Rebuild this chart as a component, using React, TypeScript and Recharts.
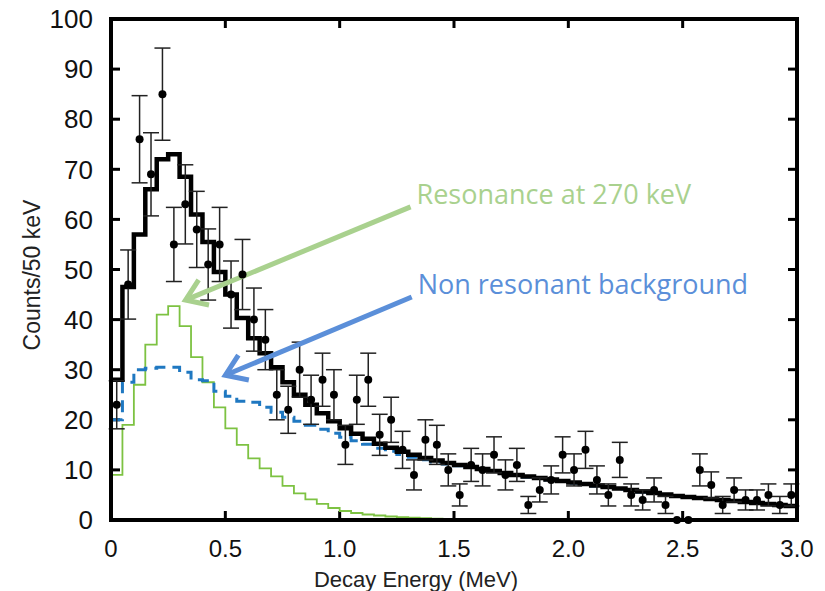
import React from 'react';
import { ComposedChart, Line, Scatter, ErrorBar, XAxis, YAxis, ReferenceLine, Label } from 'recharts';

// bin edges in MeV (50 keV bins)
const binEdges = [
  0, 0.05, 0.1, 0.15, 0.2, 0.25, 0.3, 0.35, 0.4, 0.45,
  0.5, 0.55, 0.6, 0.65, 0.7, 0.75, 0.8, 0.85, 0.9, 0.95,
  1.0, 1.05, 1.1, 1.15, 1.2, 1.25, 1.3, 1.35, 1.4, 1.45,
  1.5, 1.55, 1.6, 1.65, 1.7, 1.75, 1.8, 1.85, 1.9, 1.95,
  2.0, 2.05, 2.1, 2.15, 2.2, 2.25, 2.3, 2.35, 2.4, 2.45,
  2.5, 2.55, 2.6, 2.65, 2.7, 2.75, 2.8, 2.85, 2.9, 2.95, 3.0,
];

// total fit (black histogram)
const totalFit = [
  28, 46.5, 57, 66, 72, 73, 68.5, 61, 55.5, 49.5,
  45, 40.3, 36.3, 33.3, 30.5, 27.5, 25, 23, 21.3, 19.7,
  18.3, 17.2, 16.2, 15.2, 14.4, 13.6, 13, 12.4, 11.9, 11.4,
  11, 10.6, 10.2, 9.8, 9.4, 9.0, 8.7, 8.4, 8.1, 7.8,
  7.5, 7.2, 6.9, 6.6, 6.3, 6.0, 5.7, 5.4, 5.1, 4.8,
  4.6, 4.4, 4.2, 4.0, 3.8, 3.6, 3.4, 3.2, 3.0, 2.8,
];

// non resonant background (blue dashed)
const background = [
  20, 27.5, 30, 30.3, 30.5, 30.5, 29.5, 28, 27.8, 25.7,
  24.7, 23.7, 23.5, 22.5, 21.5, 20.5, 19.7, 18.9, 18.1, 17.3,
  16.5, 15.8, 15.1, 14.3, 13.7, 13.05, 12.55, 12.05, 11.6, 11.2,
  10.85, 10.5, 10.1, 9.7, 9.3, 8.9, 8.6, 8.3, 8.0, 7.7,
  7.4, 7.1, 6.8, 6.5, 6.2, 5.9, 5.6, 5.3, 5.0, 4.7,
  4.5, 4.3, 4.1, 3.9, 3.7, 3.5, 3.3, 3.1, 2.9, 2.7,
];

// resonance at 270 keV (green)
const resonance = [
  9, 19, 27, 35, 41, 42.7, 38.7, 32.5, 27.5, 22.5,
  18.3, 15, 12.3, 10.3, 8.7, 6.8, 5.3, 4.1, 3.2, 2.4,
  1.8, 1.4, 1.1, 0.9, 0.7, 0.55, 0.45, 0.35, 0.28, 0.2,
  0.15, 0.1,
];

// measured counts per bin + errors
const counts = [
  23, 47, 76, 69, 85, 55, 63, 58, 51, 55,
  45, 49, 40, 36, 25, 22, 30, 24, 28, 25,
  15, 24, 28, 17, 20, 14, 9, 16, 15, 10,
  5, 11, 10, 13, 9, 11, 3, 6, 8, 13,
  10, 14, 8, 5, 12, 5, 4, 6, 3, 0,
  0, 10, 7, 3, 6, 4, 4, 5, 3, 5,
];
const countErrors = [
  4.8, 6.9, 8.7, 8.3, 9.2, 7.4, 7.9, 7.6, 7.1, 7.4,
  6.7, 7.0, 6.3, 6.0, 5.0, 4.7, 5.5, 4.9, 5.3, 5.0,
  3.9, 4.9, 5.3, 4.1, 4.5, 3.7, 3.0, 4.0, 3.9, 3.2,
  2.2, 3.3, 3.2, 3.6, 3.0, 3.3, 1.7, 2.4, 2.8, 3.6,
  3.2, 3.7, 2.8, 2.2, 3.5, 2.2, 2.0, 2.4, 1.7, 0,
  0, 3.2, 2.6, 1.7, 2.4, 2.0, 2.0, 2.2, 1.7, 2.2,
];

const xTicks = [0, 0.5, 1.0, 1.5, 2.0, 2.5, 3.0];
const yTicks = [0, 10, 20, 30, 40, 50, 60, 70, 80, 90, 100];

// annotation arrows (start -> tip, data units)
const resArrow = [{ x: 1.31, y: 62.5 }, { x: 0.326, y: 43.9 }];
const bkgArrow = [{ x: 1.315, y: 44.5 }, { x: 0.5, y: 28.9 }];
// plot frame corners
const frameDiag = [{ x: 0, y: 0 }, { x: 3, y: 100 }];

const lastOf = (arr: number[], i: number) => (i < arr.length ? arr[i] : i === arr.length ? arr[i - 1] : undefined);

const lineRows = binEdges.map((x, i) => ({
  x,
  total: lastOf(totalFit, i),
  bkg: lastOf(background, i),
  res: lastOf(resonance, i),
}));

const pointRows = counts.map((y, i) => ({
  x: (binEdges[i] + binEdges[i + 1]) / 2,
  y,
  err: countErrors[i],
}));

// chart layout
const W = 825;
const H = 591;
const M = { top: 19, right: 28, bottom: 0, left: 0 };
const Y_AXIS_W = 111;
const X_AXIS_H = 71;
const plot = {
  x: M.left + Y_AXIS_W,
  y: M.top,
  w: W - M.left - M.right - Y_AXIS_W,
  h: H - M.top - M.bottom - X_AXIS_H,
};

const tickFont = "'Liberation Sans Narrow', 'Liberation Sans', Arial, sans-serif";
const noteFont = "'Open Sans', Lato, sans-serif";
const TICK_LEN = 9;
const FRAME = 4;

// frame as four filled bars (no strokes)
function FrameBars({ x, y, w, h }: { x: number; y: number; w: number; h: number }) {
  const t = FRAME / 2;
  return (
    <g>
      <rect x={x - t} y={y - t} width={w + FRAME} height={FRAME} fill="#000" />
      <rect x={x - t} y={y + h - t} width={w + FRAME} height={FRAME} fill="#000" />
      <rect x={x - t} y={y - t} width={FRAME} height={h + FRAME} fill="#000" />
      <rect x={x + w - t} y={y - t} width={FRAME} height={h + FRAME} fill="#000" />
    </g>
  );
}

const frameShape = (p: any) => {
  const x = Math.min(p.x1, p.x2);
  const y = Math.min(p.y1, p.y2);
  return <FrameBars x={x} y={y} w={Math.abs(p.x2 - p.x1)} h={Math.abs(p.y2 - p.y1)} />;
};

// inward tick marks at both ends of a full-height / full-width reference line
const tickStub = (p: any) => {
  const { x1, y1, x2, y2 } = p;
  const vertical = Math.abs(x1 - x2) < 0.5;
  if (vertical) {
    const top = Math.min(y1, y2);
    const bot = Math.max(y1, y2);
    return (
      <g>
        <line x1={x1} x2={x1} y1={top} y2={top + TICK_LEN} stroke="#000" strokeWidth={3} />
        <line x1={x1} x2={x1} y1={bot} y2={bot - TICK_LEN} stroke="#000" strokeWidth={3} />
      </g>
    );
  }
  const left = Math.min(x1, x2);
  const right = Math.max(x1, x2);
  return (
    <g>
      <line x1={left} x2={left + TICK_LEN} y1={y1} y2={y1} stroke="#000" strokeWidth={3} />
      <line x1={right} x2={right - TICK_LEN} y1={y1} y2={y1} stroke="#000" strokeWidth={3} />
    </g>
  );
};

function makeArrow(color: string, text: string) {
  return (p: any) => {
    const { x1, y1, x2, y2 } = p;
    const ang = Math.atan2(y2 - y1, x2 - x1);
    const len = 24;
    const spread = 0.6;
    const a1 = ang + Math.PI - spread;
    const a2 = ang + Math.PI + spread;
    const pts = `${x2 + len * Math.cos(a1)},${y2 + len * Math.sin(a1)} ${x2},${y2} ${x2 + len * Math.cos(a2)},${y2 + len * Math.sin(a2)}`;
    return (
      <g>
        <line x1={x1} y1={y1} x2={x2 - 3 * Math.cos(ang)} y2={y2 - 3 * Math.sin(ang)} stroke={color} strokeWidth={5} />
        <polyline points={pts} fill="none" stroke={color} strokeWidth={5} strokeLinejoin="miter" />
        <text x={x1 + 6} y={y1 - 3} fill={color} fontSize={27} fontFamily={noteFont}>
          {text}
        </text>
      </g>
    );
  };
}

export default function App() {
  return (
    <div style={{ position: 'absolute', left: 0, top: 0, width: W, height: H, background: '#fff' }}>
      <ComposedChart width={W} height={H} margin={M}>
        <XAxis
          dataKey="x"
          type="number"
          domain={[0, 3]}
          ticks={xTicks}
          allowDataOverflow
          height={X_AXIS_H}
          tickLine={false}
          axisLine={false}
          tickMargin={14}
          tickFormatter={(v: number) => (v === 0 ? '0' : v.toFixed(1))}
          tick={{ fontSize: 24, fill: '#111', fontFamily: tickFont }}
        >
          <Label
            content={() => (
              <text x={416} y={587} textAnchor="middle" fontSize={22} fill="#222" fontFamily={tickFont}>
                Decay Energy (MeV)
              </text>
            )}
          />
        </XAxis>
        <YAxis
          type="number"
          domain={[0, 100]}
          ticks={yTicks}
          width={Y_AXIS_W}
          tickLine={false}
          axisLine={false}
          tickMargin={12}
          tick={{ fontSize: 26, fill: '#111', fontFamily: tickFont }}
        >
          <Label
            content={() => (
              <text
                x={40}
                y={275}
                transform="rotate(-90 40 275)"
                textAnchor="middle"
                fontSize={23}
                fill="#222"
                fontFamily={tickFont}
              >
                Counts/50 keV
              </text>
            )}
          />
        </YAxis>
        {xTicks.slice(1, -1).map((v) => (
          <ReferenceLine key={'xt' + v} x={v} shape={tickStub} />
        ))}
        {yTicks.slice(1, -1).map((v) => (
          <ReferenceLine key={'yt' + v} y={v} shape={tickStub} />
        ))}
        <Line
          data={lineRows}
          dataKey="res"
          type="stepAfter"
          stroke="#7dc242"
          strokeWidth={1.8}
          dot={false}
          isAnimationActive={false}
        />
        <Line
          data={lineRows}
          dataKey="bkg"
          type="stepAfter"
          stroke="#1f78c1"
          strokeWidth={3}
          strokeDasharray="12 7"
          dot={false}
          isAnimationActive={false}
        />
        <Line
          data={lineRows}
          dataKey="total"
          type="stepAfter"
          stroke="#000"
          strokeWidth={4.5}
          dot={false}
          isAnimationActive={false}
        />
        <Scatter
          data={pointRows}
          dataKey="y"
          isAnimationActive={false}
          shape={(p: any) => <circle cx={p.cx} cy={p.cy} r={4} fill="#000" />}
        >
          <ErrorBar dataKey="err" direction="y" width={8} stroke="#222" strokeWidth={1.5} />
        </Scatter>
        <ReferenceLine segment={frameDiag} shape={frameShape} ifOverflow="visible" />
        <ReferenceLine segment={resArrow} shape={makeArrow('#a9d18e', 'Resonance at 270 keV')} ifOverflow="visible" />
        <ReferenceLine segment={bkgArrow} shape={makeArrow('#5b8fd9', 'Non resonant background')} ifOverflow="visible" />
      </ComposedChart>
      {/* plot frame overlay */}
      <svg
        width={W}
        height={H}
        style={{ position: 'absolute', left: 0, top: 0, pointerEvents: 'none', zIndex: 10 }}
      >
        <FrameBars x={plot.x} y={plot.y} w={plot.w} h={plot.h} />
      </svg>
    </div>
  );
}
